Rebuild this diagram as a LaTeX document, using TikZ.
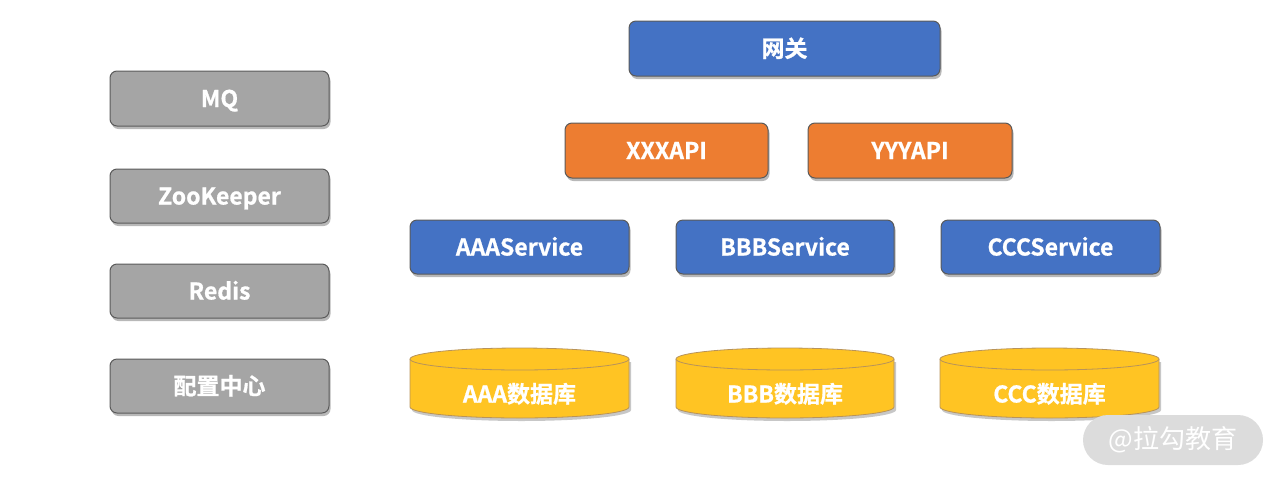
\documentclass[tikz,border=0pt]{standalone}
\usepackage{fontspec}
\setmainfont{Noto Sans CJK SC}[BoldFont={* Bold}, BoldFeatures={FakeBold=0.8}]
\usetikzlibrary{shadows}
\definecolor{cblue}{HTML}{4472C4}
\definecolor{corange}{HTML}{ED7D31}
\definecolor{cgray}{HTML}{A5A5A5}
\definecolor{cyellow}{HTML}{FFC423}
\definecolor{cedge}{HTML}{5A5A5A}
\definecolor{cyedge}{HTML}{B8935A}
\definecolor{wmfill}{HTML}{DCDCDC}
\tikzset{
  box/.style={draw=cedge, line width=1pt, rounded corners=7pt, inner sep=0pt,
    text=white, font=\bfseries\fontsize{23}{26}\selectfont, text height=17pt, text depth=0pt,
    drop shadow={shadow xshift=1.5pt, shadow yshift=-3pt, opacity=0.28, fill=black}},
  bluebox/.style={box, fill=cblue},
  orangebox/.style={box, fill=corange},
  graybox/.style={box, fill=cgray},
  dblabel/.style={text=white, font=\bfseries\fontsize{23}{26}\selectfont, inner sep=0pt, text height=17pt, text depth=0pt},
  dbbody/.style={fill=cyellow, draw=cyedge, line width=0.8pt},
}
% cylinder: left x, right x, top ellipse center y, bottom ellipse center y, ry, name
\newcommand{\dbcyl}[6]{%
  \pgfmathsetmacro{\cx}{(#1+#2)/2}\pgfmathsetmacro{\rx}{(#2-#1)/2}%
  \fill[black, opacity=0.22] (#1+2,#3+3) -- (#1+2,#4+3) arc[start angle=180, end angle=0, x radius=\rx, y radius=#5] -- (#2+2,#3+3) -- cycle;
  \draw[dbbody] (#1,#3) -- (#1,#4) arc[start angle=180, end angle=0, x radius=\rx, y radius=#5] -- (#2,#3);
  \draw[dbbody] (\cx,#3) ellipse[x radius=\rx, y radius=#5];
  \coordinate (#6) at (\cx,#3);
}
\begin{document}
\begin{tikzpicture}[x=1pt, y=-1pt]
\useasboundingbox (0,0) rectangle (1280,483);
% top
\node[bluebox, minimum width=311pt, minimum height=55pt] (gw) at (784.5,48.5) {网关};
\node[orangebox, minimum width=203pt, minimum height=55pt] (xxx) at (666.5,150.5) {XXXAPI};
\node[orangebox, minimum width=204pt, minimum height=55pt] (yyy) at (910,150.5) {YYYAPI};
\node[bluebox, minimum width=219pt, minimum height=54pt] (aaa) at (519.5,247) {AAAService};
\node[bluebox, minimum width=218pt, minimum height=54pt] (bbb) at (785,247) {BBBService};
\node[bluebox, minimum width=219pt, minimum height=54pt] (ccc) at (1050.5,247) {CCCService};
% left
\node[graybox, minimum width=219pt, minimum height=55pt] (mq) at (219.5,98.5) {MQ};
\node[graybox, minimum width=219pt, minimum height=54pt] (zk) at (219.5,196) {ZooKeeper};
\node[graybox, minimum width=219pt, minimum height=54pt] (redis) at (219.5,291) {Redis};
\node[graybox, minimum width=219pt, minimum height=54pt] (cfg) at (219.5,386) {配置中心};
% databases
\dbcyl{410}{629}{359}{407}{11}{dba}
\node[dblabel] (dbat) at (519.5,394) {AAA数据库};
\dbcyl{676}{894}{359}{407}{11}{dbb}
\node[dblabel] (dbbt) at (785,394) {BBB数据库};
\dbcyl{940}{1159}{359}{407}{11}{dbc}
\node[dblabel] (dbct) at (1049.5,394) {CCC数据库};
% watermark
\node[fill=wmfill, rounded corners=25pt, minimum width=180pt, minimum height=50pt, inner sep=0pt,
  text=white, font=\fontsize{26}{30}\selectfont] (wm) at (1173,440) {@拉勾教育};
\end{tikzpicture}
\end{document}
